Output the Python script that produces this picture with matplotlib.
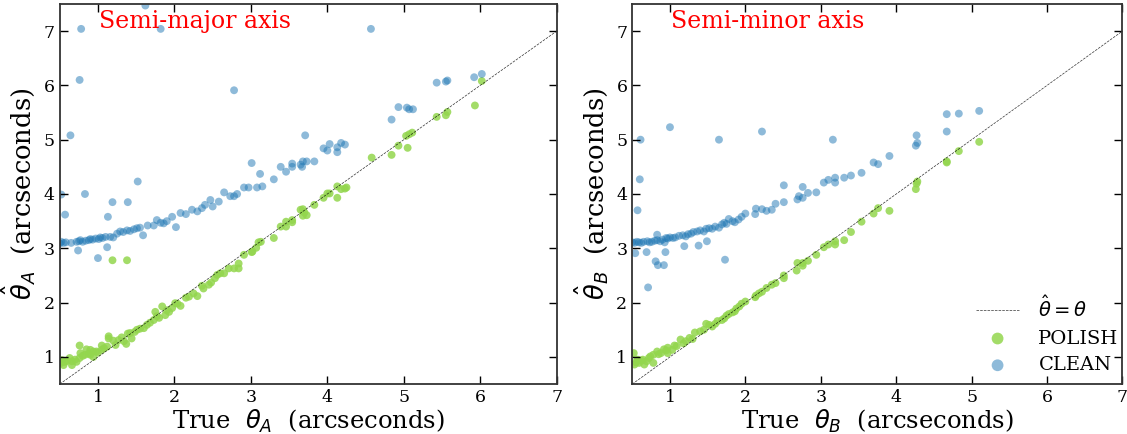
import numpy as np
import matplotlib
matplotlib.use("Agg")
import matplotlib.pyplot as plt

plt.rcParams['font.family'] = 'DejaVu Serif'
plt.rcParams['mathtext.fontset'] = 'dejavusans'

# ---- semi-major axis (left panel) ----
a_clean_x = [1.62, 0.78, 1.82, 4.57, 0.76, 2.78, 0.64, 0.52, 0.57, 0.83, 1.52, 1.19, 1.39, 1.13,
             1.59, 1.12, 0.74, 1.00, 2.02,
             0.50, 0.52, 0.55, 0.58, 0.65, 0.72, 0.75, 0.77, 0.80, 0.84, 0.88, 0.90, 0.93, 0.97,
             1.01, 1.03, 1.06, 1.10, 1.16, 1.20, 1.25, 1.29, 1.33, 1.38, 1.42, 1.47, 1.51, 1.55,
             1.65, 1.73, 1.77, 1.82, 1.86, 1.90, 1.97, 2.08, 2.15, 2.23, 2.30, 2.36, 2.40, 2.47,
             2.50, 2.58, 2.65, 2.73, 2.78, 2.82, 2.91, 2.97, 3.01, 3.08, 3.12, 3.15, 3.30, 3.39,
             3.46, 3.54, 3.54, 3.65, 3.67, 3.68, 3.71, 3.73, 3.83, 3.95, 4.00, 4.03, 4.13, 4.13,
             4.18, 4.23, 4.84, 4.93, 5.04, 5.07, 5.12, 5.43, 5.55, 5.57, 5.92, 6.02]
a_clean_y = [7.47, 7.04, 7.04, 7.04, 6.10, 5.91, 5.08, 3.99, 3.62, 4.00, 4.23, 3.85, 3.85, 3.58,
             3.24, 3.02, 2.96, 2.82, 3.39,
             3.09, 3.12, 3.10, 3.11, 3.10, 3.12, 3.13, 3.15, 3.12, 3.14, 3.15, 3.17, 3.16, 3.18,
             3.17, 3.20, 3.19, 3.21, 3.21, 3.20, 3.27, 3.31, 3.30, 3.33, 3.32, 3.35, 3.37, 3.38,
             3.42, 3.42, 3.52, 3.47, 3.46, 3.50, 3.58, 3.65, 3.63, 3.71, 3.68, 3.74, 3.80, 3.89,
             3.77, 3.86, 4.03, 3.96, 3.96, 4.00, 4.12, 4.12, 4.57, 4.12, 4.37, 4.14, 4.27, 4.50,
             4.41, 4.56, 4.50, 4.54, 4.50, 4.60, 5.08, 4.60, 4.60, 4.84, 4.80, 4.92, 4.86, 4.77,
             4.94, 4.91, 5.37, 5.60, 5.59, 5.56, 5.56, 6.05, 6.07, 6.09, 6.15, 6.21]

a_polish_x = [1.19, 1.38,
              0.50, 0.52, 0.53, 0.55, 0.57, 0.60, 0.63, 0.66, 0.66, 0.70, 0.72, 0.76, 0.76, 0.77,
              0.80, 0.83, 0.85, 0.88, 0.90, 0.90, 0.94, 0.94, 0.98, 1.00, 1.05, 1.05, 1.08, 1.12,
              1.14, 1.14, 1.20, 1.23, 1.27, 1.31, 1.34, 1.37, 1.39, 1.42, 1.44, 1.48, 1.51, 1.55,
              1.60, 1.64, 1.68, 1.73, 1.75, 1.77, 1.80, 1.84, 1.88, 1.90, 1.93, 1.97, 2.01, 2.04,
              2.08, 2.15, 2.19, 2.25, 2.30, 2.36, 2.38, 2.45, 2.48, 2.53, 2.56, 2.60, 2.65, 2.71,
              2.78, 2.84, 2.84, 2.91, 3.01, 3.02, 3.07, 3.10, 3.13, 3.30, 3.39, 3.46, 3.46, 3.54,
              3.54, 3.65, 3.68, 3.68, 3.70, 3.73, 3.83, 3.95, 4.00, 4.03, 4.13, 4.13, 4.18, 4.23,
              4.25, 4.58, 4.84, 4.93, 5.03, 5.05, 5.07, 5.11, 5.43, 5.55, 5.57, 5.93, 6.02]
a_polish_y = [2.78, 2.78,
              0.91, 0.89, 0.94, 0.85, 0.91, 0.93, 0.98, 0.92, 0.85, 0.95, 0.91, 1.21, 0.98, 1.07,
              1.02, 1.04, 1.14, 1.06, 1.13, 1.04, 1.10, 1.00, 1.10, 1.08, 1.21, 1.13, 1.16, 1.19,
              1.38, 1.34, 1.30, 1.22, 1.31, 1.36, 1.29, 1.24, 1.43, 1.44, 1.34, 1.46, 1.50, 1.52,
              1.53, 1.59, 1.63, 1.68, 1.83, 1.75, 1.72, 1.93, 1.77, 1.86, 1.83, 1.90, 1.99, 1.98,
              1.94, 2.09, 2.11, 2.17, 2.12, 2.31, 2.26, 2.33, 2.37, 2.45, 2.51, 2.54, 2.54, 2.63,
              2.63, 2.72, 2.63, 2.88, 2.93, 2.94, 3.01, 3.11, 3.12, 3.19, 3.40, 3.40, 3.49, 3.52,
              3.48, 3.71, 3.60, 3.72, 3.66, 3.61, 3.80, 3.93, 4.01, 4.01, 4.14, 3.93, 4.09, 4.10,
              4.12, 4.67, 4.72, 4.89, 5.07, 4.85, 5.10, 5.13, 5.42, 5.45, 5.51, 5.63, 6.08]

# ---- semi-minor axis (right panel) ----
b_clean_x = [1.00, 0.61, 1.65, 2.22, 3.16, 0.60, 0.57, 0.54, 0.69, 0.94, 0.81, 0.84, 0.92, 0.71,
             1.73, 0.83, 1.19, 1.38, 1.49, 0.93,
             0.50, 0.53, 0.56, 0.59, 0.62, 0.65, 0.70, 0.73, 0.76, 0.80, 0.83, 0.87, 0.90, 0.95,
             0.97, 1.00, 1.04, 1.07, 1.12, 1.17, 1.21, 1.24, 1.28, 1.31, 1.36, 1.40, 1.45, 1.48,
             1.52, 1.56, 1.60, 1.65, 1.69, 1.72, 1.75, 1.78, 1.83, 1.86, 1.91, 1.95, 2.00, 2.13,
             2.14, 2.22, 2.28, 2.35, 2.40, 2.51, 2.51, 2.69, 2.71, 2.76, 2.76, 2.83, 2.94, 3.04,
             3.10, 3.19, 3.19, 3.31, 3.40, 3.54, 3.70, 3.76, 3.91, 4.26, 4.28, 4.27, 4.67, 4.67,
             4.83, 5.10]
b_clean_y = [5.23, 5.00, 5.00, 5.15, 5.00, 4.27, 3.70, 2.91, 2.93, 2.93, 2.76, 2.69, 2.69, 2.28,
             2.79, 3.25, 3.04, 3.05, 3.13, 3.11,
             3.11, 3.10, 3.12, 3.11, 3.10, 3.12, 3.13, 3.11, 3.12, 3.14, 3.15, 3.13, 3.16, 3.19,
             3.18, 3.20, 3.19, 3.20, 3.23, 3.24, 3.22, 3.26, 3.27, 3.30, 3.31, 3.33, 3.31, 3.36,
             3.37, 3.36, 3.40, 3.38, 3.44, 3.47, 3.45, 3.54, 3.50, 3.48, 3.53, 3.58, 3.64, 3.63,
             3.73, 3.72, 3.69, 3.71, 3.82, 3.85, 4.16, 3.90, 3.96, 3.93, 4.13, 4.02, 4.03, 4.21,
             4.26, 4.30, 4.21, 4.30, 4.34, 4.39, 4.58, 4.55, 4.70, 4.89, 4.94, 5.08, 5.15, 5.47,
             5.48, 5.53]

b_polish_x = [0.52, 0.53, 0.55, 0.57, 0.59, 0.62, 0.64, 0.66, 0.69, 0.72, 0.74, 0.78, 0.78, 0.83,
              0.85, 0.88, 0.92, 0.95, 0.97, 0.97, 1.03, 1.06, 1.09, 1.14, 1.18, 1.21, 1.26, 1.30,
              1.33, 1.40, 1.45, 1.48, 1.52, 1.56, 1.60, 1.63, 1.69, 1.72, 1.75, 1.78, 1.83, 1.86,
              1.88, 1.92, 1.95, 2.00, 2.13, 2.14, 2.18, 2.22, 2.28, 2.35, 2.40, 2.51, 2.51, 2.68,
              2.69, 2.76, 2.76, 2.83, 2.94, 3.04, 3.10, 3.19, 3.19, 3.31, 3.40, 3.54, 3.70, 3.76,
              3.91, 4.26, 4.27, 4.28, 4.67, 4.67, 4.83, 5.10]
b_polish_y = [1.07, 0.86, 0.90, 0.95, 0.89, 0.93, 0.95, 0.86, 0.92, 0.98, 1.01, 1.04, 0.89, 1.10,
              1.05, 1.07, 1.14, 1.12, 1.17, 1.07, 1.13, 1.21, 1.20, 1.32, 1.25, 1.29, 1.35, 1.33,
              1.45, 1.47, 1.50, 1.61, 1.59, 1.56, 1.61, 1.66, 1.68, 1.71, 1.76, 1.79, 1.82, 1.84,
              1.89, 1.93, 1.98, 2.02, 2.10, 2.13, 2.17, 2.20, 2.27, 2.33, 2.36, 2.45, 2.50, 2.59,
              2.73, 2.68, 2.73, 2.77, 2.88, 3.02, 3.07, 3.07, 3.13, 3.15, 3.30, 3.49, 3.64, 3.74,
              3.69, 4.09, 4.19, 4.23, 4.58, 4.60, 4.79, 4.96]

panels = [
    (a_polish_x, a_polish_y, a_clean_x, a_clean_y, 'Semi-major axis', 'A'),
    (b_polish_x, b_polish_y, b_clean_x, b_clean_y, 'Semi-minor axis', 'B'),
]

fig = plt.figure(figsize=(11.27, 4.34), dpi=100)
ax_pos = [[0.053, 0.115, 0.441, 0.876], [0.561, 0.115, 0.435, 0.876]]

polish_color = '#93d64e'
clean_color = '#1f77b4'
diag = np.array([0.5, 7.0])

for i, (px, py, cx, cy, title, sub) in enumerate(panels):
    ax = fig.add_axes(ax_pos[i])
    ax.plot(diag, diag, ls='--', color='k', lw=0.5, alpha=0.8, label=r'$\hat{\theta}=\theta$')
    ax.scatter(px, py, s=32, color=polish_color, alpha=0.85, edgecolors='none', label='POLISH')
    ax.scatter(cx, cy, s=32, color=clean_color, alpha=0.5, edgecolors='none', label='CLEAN')
    ax.set_xlim(0.5, 7.0)
    ax.set_ylim(0.5, 7.5)
    ax.set_xticks(range(1, 8))
    ax.set_yticks(range(1, 8))
    ax.tick_params(direction='in', top=True, right=True, length=6, width=1, labelsize=12.5)
    for sp in ax.spines.values():
        sp.set_linewidth(1.3)
        sp.set_color('#333333')
    ax.set_xlabel(r'True  $\theta_%s$  (arcseconds)' % sub, fontsize=17.5, labelpad=1)
    ax.set_ylabel(r'$\hat{\theta}_%s$  (arcseconds)' % sub, fontsize=18.5, labelpad=4)
    ax.text(0.08, 0.985, title, transform=ax.transAxes, color='red', fontsize=17, va='top')
    if i == 1:
        ax.legend(loc='lower right', bbox_to_anchor=(1.012, 0.0), frameon=False, fontsize=14,
                  markerscale=1.5, handlelength=2.2, handletextpad=1.0, borderaxespad=0.1,
                  labelspacing=0.45)

fig.savefig('out.png', dpi=100)
